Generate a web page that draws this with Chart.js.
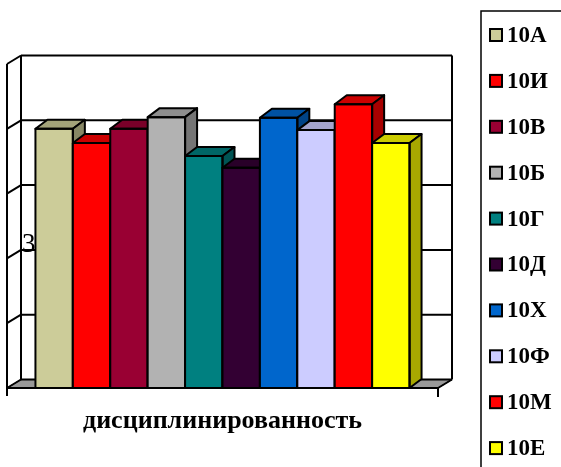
<!DOCTYPE html>
<html>
<head>
<meta charset="utf-8">
<script src="https://cdn.jsdelivr.net/npm/chart.js@4.4.0/dist/chart.umd.min.js"></script>
<style>
  html, body { margin: 0; padding: 0; background: #fff; }
  canvas { display: block; }
</style>
</head>
<body>
<canvas id="classChart" width="561" height="467"></canvas>
<script>
// data
const categories = ['дисциплинированность'];
const classNames = ['10А', '10И', '10В', '10Б', '10Г', '10Д', '10Х', '10Ф', '10М', '10Е'];
const classValues = [4.0, 3.78, 4.0, 4.18, 3.58, 3.4, 4.17, 3.98, 4.38, 3.78];
const classColors = ['#CCCC99', '#FF0000', '#990033', '#B2B2B2', '#008080',
                     '#330033', '#0066CC', '#CCCCFF', '#FF0000', '#FFFF00'];
const axisTicks = [0, 1, 2, 3, 4, 5];

const SERIF = "'Liberation Serif', 'Times New Roman', serif";
// depth of the box walls and of the bars
const WALL_DX = 14, WALL_DY = -8.5;
const BAR_DX = 12, BAR_DY = -9;

function shade(hex, k) {
    const n = parseInt(hex.slice(1), 16);
    const r = Math.round(((n >> 16) & 255) * k);
    const g = Math.round(((n >> 8) & 255) * k);
    const b = Math.round((n & 255) * k);
    return `rgb(${r},${g},${b})`;
}

function line(ctx, x1, y1, x2, y2) {
    ctx.beginPath();
    ctx.moveTo(x1, y1);
    ctx.lineTo(x2, y2);
    ctx.stroke();
}

function poly(ctx, pts, fill) {
    ctx.beginPath();
    ctx.moveTo(pts[0][0], pts[0][1]);
    pts.slice(1).forEach(p => ctx.lineTo(p[0], p[1]));
    ctx.closePath();
    ctx.fillStyle = fill;
    ctx.fill();
    ctx.stroke();
}

const box3d = {
    id: 'box3d',
    beforeDatasetsDraw(chart) {
        const {ctx, chartArea: a, scales: {y}} = chart;
        ctx.save();
        // floor
        ctx.strokeStyle = '#000';
        ctx.lineWidth = 1;
        poly(ctx, [[a.left, a.bottom], [a.right, a.bottom],
                   [a.right + WALL_DX, a.bottom + WALL_DY], [a.left + WALL_DX, a.bottom + WALL_DY]], '#999999');

        // stray label seen on the left wall
        ctx.fillStyle = '#000';
        ctx.font = `27px ${SERIF}`;
        ctx.textBaseline = 'alphabetic';
        ctx.fillText('3', a.left + 15, y.getPixelForValue(2.1));

        ctx.lineWidth = 2;
        axisTicks.forEach(v => {
            const py = y.getPixelForValue(v);
            line(ctx, a.left + WALL_DX, py + WALL_DY, a.right + WALL_DX, py + WALL_DY);
            line(ctx, a.left, py, a.left + WALL_DX, py + WALL_DY);
        });
        line(ctx, a.left + WALL_DX, a.top + WALL_DY, a.left + WALL_DX, a.bottom + WALL_DY);
        line(ctx, a.right + WALL_DX, a.top + WALL_DY, a.right + WALL_DX, a.bottom + WALL_DY);
        line(ctx, a.left, a.top, a.left, a.bottom + 8);
        line(ctx, a.left, a.bottom, a.right, a.bottom);
        line(ctx, a.right, a.bottom, a.right + WALL_DX, a.bottom + WALL_DY);
        line(ctx, a.right, a.bottom, a.right, a.bottom + 9);
        ctx.restore();
    },
    // give the bars their depth, left to right so each bar hides its left neighbour's side
    afterDatasetsDraw(chart) {
        const ctx = chart.ctx;
        ctx.save();
        ctx.strokeStyle = '#000';
        ctx.lineWidth = 2;
        ctx.lineJoin = 'round';
        chart.data.datasets.forEach((ds, i) => {
            const color = ds.backgroundColor;
            chart.getDatasetMeta(i).data.forEach(el => {
                const {x, y, base, width} = el.getProps(['x', 'y', 'base', 'width'], true);
                const l = x - width / 2, r = x + width / 2;
                ctx.fillStyle = color;
                ctx.fillRect(l, y, width, base - y);
                poly(ctx, [[l, y], [r, y], [r + BAR_DX, y + BAR_DY], [l + BAR_DX, y + BAR_DY]], shade(color, 0.8));
                poly(ctx, [[r, y], [r + BAR_DX, y + BAR_DY], [r + BAR_DX, base + BAR_DY], [r, base]], shade(color, 0.66));
                ctx.strokeRect(l, y, width, base - y);
            });
        });
        ctx.restore();
    },
    afterDraw(chart) {
        const {ctx, scales: {x}} = chart;
        ctx.save();
        // category label
        ctx.fillStyle = '#000';
        ctx.font = `bold 26px ${SERIF}`;
        ctx.textAlign = 'center';
        ctx.textBaseline = 'middle';
        ctx.fillText(categories[0], x.getPixelForValue(0), 421);

        // legend box
        ctx.strokeStyle = '#000';
        ctx.lineWidth = 1.5;
        ctx.beginPath();
        ctx.moveTo(481, 467);
        ctx.lineTo(481, 11);
        ctx.lineTo(561, 11);
        ctx.stroke();

        ctx.textAlign = 'left';
        ctx.font = `bold 23px ${SERIF}`;
        ctx.lineWidth = 2;
        chart.data.datasets.forEach((ds, i) => {
            const yc = 35 + i * 45.9;
            ctx.fillStyle = ds.backgroundColor;
            ctx.fillRect(490, yc - 6, 12, 12);
            ctx.strokeRect(490, yc - 6, 12, 12);
            ctx.fillStyle = '#000';
            ctx.fillText(ds.label, 507, yc + 1);
        });
        ctx.restore();
    }
};

new Chart(document.getElementById('classChart'), {
    type: 'bar',
    data: {
        labels: categories,
        datasets: classNames.map((name, i) => ({
            label: name,
            data: [classValues[i]],
            backgroundColor: classColors[i],
            borderWidth: 0
        }))
    },
    options: {
        responsive: false,
        animation: false,
        devicePixelRatio: 1,
        layout: { padding: { left: 7, right: 123, top: 64, bottom: 79 } },
        datasets: { bar: { barPercentage: 1, categoryPercentage: 0.868 } },
        scales: {
            x: { display: false },
            y: { display: false, min: 0, max: 5 }
        },
        plugins: {
            legend: { display: false },
            tooltip: { enabled: false }
        }
    },
    plugins: [box3d]
});
</script>
</body>
</html>
